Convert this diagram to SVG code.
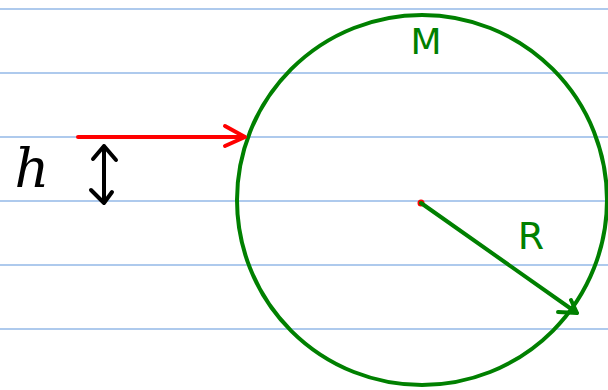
<svg xmlns="http://www.w3.org/2000/svg" width="608" height="390" viewBox="0 0 608 390">
<style>
.rule{stroke:#5f95dc;stroke-width:1.2}
.ink{fill:none;stroke-linecap:round;stroke-linejoin:round;stroke-width:4}
.lbl{font-family:"DejaVu Serif",serif;font-style:italic;font-size:54px}
</style>
<rect width="608" height="390" fill="#ffffff"/>
<g id="rules">
<line class="rule" x1="0" y1="9" x2="608" y2="9"/>
<line class="rule" x1="0" y1="73" x2="608" y2="73"/>
<line class="rule" x1="0" y1="137" x2="608" y2="137"/>
<line class="rule" x1="0" y1="201" x2="608" y2="201"/>
<line class="rule" x1="0" y1="265" x2="608" y2="265"/>
<line class="rule" x1="0" y1="329" x2="608" y2="329"/>
</g>
<g id="sphere">
<circle cx="422" cy="200" r="185" fill="none" stroke="#008000" stroke-width="4"/>
<text x="426" y="54" text-anchor="middle" fill="#008000" style="font-family:'DejaVu Sans',sans-serif;font-size:36px">M</text>
<circle cx="421" cy="203" r="3.5" fill="#ff0000"/>
</g>
<g id="h-label">
<text x="32" y="187" text-anchor="middle" fill="#000000" class="lbl">h</text>
</g>
<g id="connectors">
<g id="ray">
<path class="ink" stroke="#ff0000" d="M78,137 H245 M225,126 L245,137 L225,146"/>
</g>
<g id="height">
<path class="ink" stroke="#000000" d="M104,146 V203 M93,159 L104,146 L116,160 M91,190 L104,203 L112,192"/>
</g>
<g id="radius">
<path class="ink" stroke="#008000" d="M421,203 L577,313 M571,300 L577,313 L558,312"/>
<text x="531" y="249" text-anchor="middle" fill="#008000" style="font-family:'DejaVu Sans',sans-serif;font-size:38px">R</text>
</g>
</g>
</svg>
